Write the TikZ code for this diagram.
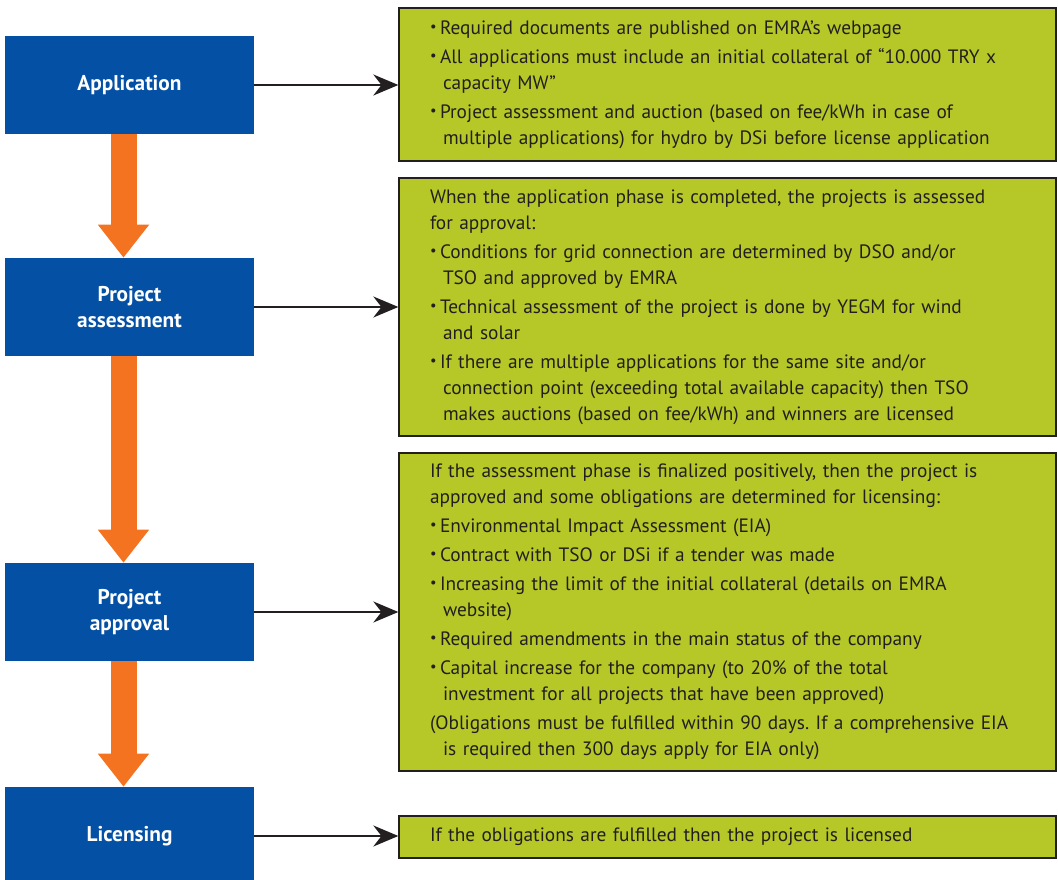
\documentclass[tikz,border=0pt]{standalone}
\usepackage{fontspec}
\setmainfont{PT Sans}
\usetikzlibrary{arrows.meta}
\frenchspacing

\definecolor{stageblue}{HTML}{0450A4}
\definecolor{notegreen}{HTML}{B6C827}
\definecolor{flowor}{HTML}{F37321}
\definecolor{inkgray}{HTML}{231F20}

% small bullet and paragraph helpers for the green boxes
\newcommand{\bul}{\makebox[7.5pt][l]{\raisebox{0.3ex}{\scalebox{0.75}{•}}}}
\newcommand{\intro}[1]{\leftskip=23.25pt\parskip=2.25pt\hangindent=0pt #1\par}
\newcommand{\point}[1]{\leftskip=23.25pt\parskip=2.25pt\hangindent=9.75pt\hangafter=1 \bul#1\par}
\newcommand{\remark}[1]{\leftskip=23.25pt\parskip=2.25pt\hangindent=9.75pt\hangafter=1 #1\par}

\begin{document}
\begin{tikzpicture}[x=0.75pt, y=-0.75pt,
    stage/.style={fill=stageblue, text=white, font=\fontsize{16pt}{19.5pt}\selectfont\bfseries,
      align=center, minimum width=186.75pt, minimum height=73.5pt, inner sep=0pt},
    infobox/.style={fill=notegreen, draw=inkgray, line width=1pt, text=inkgray,
      font=\fontsize{14.5pt}{19.5pt}\selectfont, text width=492.75pt, align=left,
      inner xsep=0pt, inner ysep=4pt},
    linkarrow/.style={draw=inkgray, line width=1.5pt, -{Stealth[length=18.75pt, width=15.75pt]}},
    downarrow/.style={draw=flowor, line width=19.5pt, -{Triangle[length=24.75pt, width=36.75pt]}}]
    \useasboundingbox (0,0) rectangle (1058,880);

    % Stages
    \node[stage] (app) at (129.5,85) {Application};
    \node[stage] (assess) at (129.5,307) {Project\\assessment};
    \node[stage] (approve) at (129.5,612) {Project\\approval};
    \node[stage] (licence) at (129.5,836) {Licensing};

    % Stage details
    \node[infobox, minimum height=114.75pt] (appnote) at (727.5,84.5) {%
      \point{Required documents are published on EMRA’s webpage}
      \point{All applications must include an initial collateral of “10.000 TRY x\newline capacity MW”}
      \point{Project assessment and auction (based on fee/kWh in case of\newline multiple applications) for hydro by DSi before license application}};
    \node[infobox, minimum height=193.5pt] (assessnote) at (727.5,307) {%
      \intro{When the application phase is completed, the projects is assessed\newline for approval:}
      \point{Conditions for grid connection are determined by DSO and/or\newline TSO and approved by EMRA}
      \point{Technical assessment of the project is done by YEGM for wind\newline and solar}
      \point{If there are multiple applications for the same site and/or\newline connection point (exceeding total available capacity) then TSO\newline makes auctions (based on fee/kWh) and winners are licensed}};
    \node[infobox, minimum height=238.5pt] (approvenote) at (727.5,612) {%
      \intro{If the assessment phase is finalized positively, then the project is\newline approved and some obligations are determined for licensing:}
      \point{Environmental Impact Assessment (EIA)}
      \point{Contract with TSO or DSi if a tender was made}
      \point{Increasing the limit of the initial collateral (details on EMRA\newline website)}
      \point{Required amendments in the main status of the company}
      \point{Capital increase for the company (to 20\% of the total\newline investment for all projects that have been approved)}
      \remark{(Obligations must be fulfilled within 90 days. If a comprehensive EIA\newline is required then 300 days apply for EIA only)}};
    \node[infobox, minimum height=31.5pt] (licencenote) at (727.5,837) {%
      \intro{If the obligations are fulfilled then the project is licensed}};

    % Flow between stages
    \draw[downarrow] ([xshift=-4.5pt]app.south) -- ([xshift=-4.5pt]assess.north);
    \draw[downarrow] ([xshift=-4.5pt]assess.south) -- ([xshift=-4.5pt]approve.north);
    \draw[downarrow] ([xshift=-4.5pt]approve.south) -- ([xshift=-4.5pt]licence.north);

    % Links to details
    \draw[linkarrow] (app.east) -- (app.east -| appnote.west);
    \draw[linkarrow] (assess.east) -- (assess.east -| assessnote.west);
    \draw[linkarrow] (approve.east) -- (approve.east -| approvenote.west);
    \draw[linkarrow] (licence.east) -- (licence.east -| licencenote.west);
\end{tikzpicture}
\end{document}
